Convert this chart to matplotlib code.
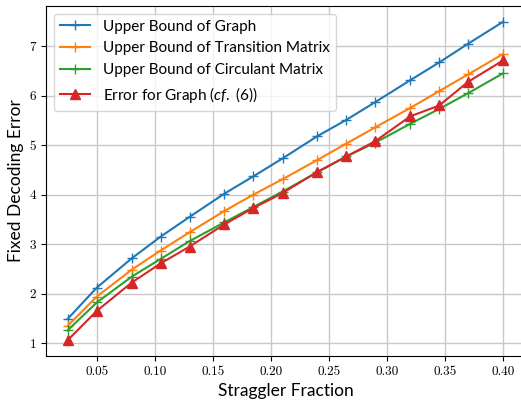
import matplotlib
matplotlib.use("Agg")
import matplotlib.pyplot as plt

plt.rcParams['font.family'] = ['Lato', 'DejaVu Sans']
plt.rcParams['mathtext.fontset'] = 'custom'
plt.rcParams['mathtext.it'] = 'Lato:italic'
plt.rcParams['mathtext.rm'] = 'Lato'

# straggler fractions
fractions = [0.025, 0.05, 0.08, 0.105, 0.13, 0.16, 0.185, 0.21, 0.24, 0.265,
             0.29, 0.32, 0.345, 0.37, 0.40]

bound_graph = [1.49, 2.12, 2.71, 3.15, 3.55, 4.02, 4.37, 4.73, 5.18, 5.51,
               5.87, 6.31, 6.67, 7.05, 7.49]
bound_transition = [1.35, 1.94, 2.48, 2.87, 3.24, 3.67, 4.00, 4.31, 4.70, 5.03,
                    5.36, 5.75, 6.09, 6.43, 6.84]
bound_circulant = [1.26, 1.82, 2.34, 2.70, 3.06, 3.44, 3.75, 4.06, 4.45, 4.77,
                   5.05, 5.43, 5.73, 6.05, 6.45]
error_graph = [1.06, 1.65, 2.22, 2.61, 2.95, 3.40, 3.73, 4.03, 4.46, 4.77,
               5.08, 5.58, 5.80, 6.28, 6.71]

x_ticks = [0.05, 0.10, 0.15, 0.20, 0.25, 0.30, 0.35, 0.40]
y_ticks = [1, 2, 3, 4, 5, 6, 7]

fig = plt.figure(figsize=(5.21, 4.01), dpi=100)
ax = fig.add_axes([0.0883, 0.1122, 0.919, 0.873])

ax.plot(fractions, bound_graph, color='#1f77b4', marker='+', markersize=6.5, lw=1.5,
        label='Upper Bound of Graph')
ax.plot(fractions, bound_transition, color='#ff7f0e', marker='+', markersize=6.5, lw=1.5,
        label='Upper Bound of Transition Matrix')
ax.plot(fractions, bound_circulant, color='#2ca02c', marker='+', markersize=6.5, lw=1.5,
        label='Upper Bound of Circulant Matrix')
ax.plot(fractions, error_graph, color='#d62728', marker='^', markersize=7, lw=1.5,
        label=r'Error for Graph ($\it{cf.}$ (6))')

ax.set_xticks(x_ticks)
ax.set_xticklabels([f'{v:.2f}' for v in x_ticks], fontfamily='cmr10', fontsize=9.5)
ax.set_yticks(y_ticks)
ax.set_yticklabels([str(v) for v in y_ticks], fontfamily='cmr10', fontsize=9.5)

ax.set_xlabel('Straggler Fraction', fontsize=12.5)
ax.set_ylabel('Fixed Decoding Error', fontsize=12.5)
ax.grid(True, color='#c8c8c8', lw=1)
ax.legend(loc='upper left', fontsize=11)

fig.savefig('out.png', dpi=100)
